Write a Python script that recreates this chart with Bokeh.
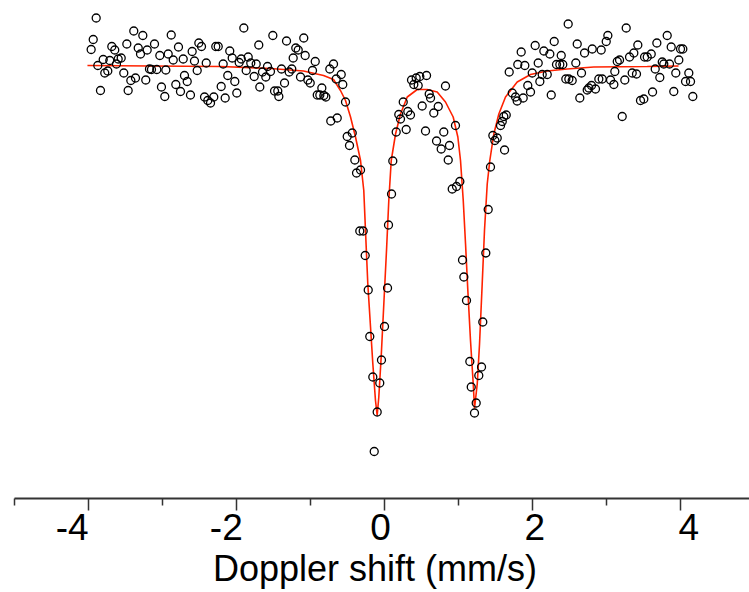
from bokeh.plotting import figure
from bokeh.models import Range1d, LinearAxis, FixedTicker
from bokeh.embed import file_html
from bokeh.resources import INLINE

# ---- data ----
velocity = [
    -3.964, -3.936, -3.896, -3.874, -3.838, -3.801, -3.780, -3.739, -3.712, -3.685,
    -3.645, -3.622, -3.599, -3.558, -3.523, -3.482, -3.464, -3.428, -3.388, -3.365,
    -3.328, -3.297, -3.266, -3.226, -3.207, -3.176, -3.149, -3.108, -3.077, -3.036,
    -3.014, -2.969, -2.955, -2.923, -2.882, -2.855, -2.820, -2.784, -2.757, -2.720,
    -2.703, -2.666, -2.622, -2.599, -2.568, -2.531, -2.509, -2.473, -2.432, -2.409,
    -2.388, -2.351, -2.307, -2.280, -2.247, -2.207, -2.180, -2.153, -2.118, -2.091,
    -2.058, -2.023, -1.996, -1.964, -1.936, -1.901, -1.869, -1.842, -1.807, -1.761,
    -1.734, -1.699, -1.685, -1.649, -1.604, -1.581, -1.541, -1.509, -1.486, -1.442,
    -1.428, -1.392, -1.351, -1.324, -1.288, -1.253, -1.234, -1.199, -1.166, -1.135,
    -1.091, -1.072, -1.036, -1.004, -0.973, -0.936, -0.909, -0.874, -0.847, -0.820,
    -0.793, -0.739, -0.726, -0.689, -0.653, -0.639, -0.585, -0.564, -0.527, -0.504,
    -0.473, -0.436,
    -0.401, -0.378, -0.334, -0.324, -0.288, -0.261, -0.220, -0.199, -0.158, -0.139,
    -0.099, -0.064, -0.041, 0.000, 0.041, 0.054, 0.095, 0.112, 0.158, 0.193,
    0.216, 0.253, 0.293, 0.315, 0.351, 0.365, 0.396, 0.428, 0.455, 0.477,
    0.509, 0.554, 0.568, 0.604, 0.622, 0.666, 0.703, 0.726, 0.766, 0.801,
    0.824, 0.861, 0.878, 0.915, 0.959, 0.973, 1.018, 1.054, 1.072, 1.108,
    1.153, 1.172, 1.216, 1.239, 1.274, 1.311, 1.328, 1.369, 1.401, 1.432,
    1.464, 1.491, 1.523, 1.568, 1.591, 1.612, 1.622, 1.645, 1.685, 1.726,
    1.770, 1.793, 1.801, 1.847, 1.874, 1.896,
    1.936, 1.973, 1.996, 2.036, 2.077, 2.099, 2.131, 2.153, 2.199, 2.234,
    2.253, 2.293, 2.324, 2.369, 2.388, 2.409, 2.450, 2.482, 2.491, 2.536,
    2.585, 2.604, 2.639, 2.662, 2.703, 2.739, 2.761, 2.797, 2.807, 2.851,
    2.896, 2.928, 2.942, 2.996, 3.018, 3.054, 3.099, 3.112, 3.145, 3.176,
    3.212, 3.247, 3.266, 3.311, 3.347, 3.369, 3.405, 3.423, 3.459, 3.504,
    3.514, 3.550, 3.604, 3.622, 3.658, 3.680, 3.720, 3.753, 3.774, 3.820,
    3.851, 3.874, 3.909, 3.936, 3.977, 4.000, 4.031, 4.068, 4.112, 4.135,
    4.166,
]

transmission = [
    100.32, 100.52, 100.95, 100.00, 99.50, 100.12, 99.85, 99.89, 100.10, 100.38,
    100.31, 100.03, 100.13, 100.15, 99.85, 100.43, 99.50, 99.70, 100.69, 99.75,
    100.35, 100.23, 100.60, 99.71, 100.31, 99.93, 99.92, 100.43, 99.92, 100.20,
    99.57, 99.38, 99.91, 100.23, 100.61, 100.11, 99.62, 100.37, 99.48, 100.13,
    99.80, 99.68, 99.41, 100.28, 100.09, 99.90, 100.45, 100.38, 99.37, 100.05,
    99.30, 99.25, 99.37, 100.38, 100.38, 99.58, 100.03, 99.35, 99.80, 100.29,
    100.15, 99.68, 99.45, 100.06, 100.13, 100.75, 99.90, 100.17, 100.05, 99.78,
    100.03, 100.41, 99.57, 99.87, 99.77, 99.98, 99.88, 100.60, 99.49, 99.49,
    99.38, 99.93, 99.65, 100.49, 99.87, 99.93, 100.15, 100.35, 100.31, 99.77,
    100.55, 100.20, 99.71, 99.65, 99.90, 100.08, 99.41, 99.41, 99.55, 99.40,
    99.37, 99.93, 98.89, 100.03, 99.73, 98.95, 99.82, 99.62, 99.27, 98.58,
    98.40, 98.65,
    98.11, 97.85, 96.69, 97.91, 96.69, 96.20, 95.51, 94.58, 93.77, 92.28,
    93.07, 93.65, 94.11, 94.78, 95.55, 96.81, 97.43, 98.09, 98.67, 99.02,
    98.93, 99.27, 98.72, 99.08, 99.01, 99.71, 99.62, 99.75, 99.60, 99.78,
    99.19, 98.69, 99.80, 99.43, 99.35, 99.05, 98.49, 99.18, 98.33, 98.67,
    99.59, 98.11, 98.40, 97.53, 98.80, 97.58, 97.68, 96.11, 95.77, 95.30,
    94.08, 93.57, 93.05, 93.25, 93.80, 93.97, 94.87, 96.25, 97.12, 97.97,
    98.60, 98.50, 98.55, 98.80, 98.88, 98.98, 98.31, 99.01, 99.87, 99.45,
    99.37, 99.29, 100.02, 100.27, 99.35, 100.00,
    99.60, 99.47, 99.85, 100.40, 100.05, 99.68, 99.82, 100.29, 99.82, 100.23,
    99.41, 100.48, 100.02, 100.02, 100.20, 100.02, 99.73, 100.83, 99.73, 99.70,
    100.05, 100.43, 99.35, 99.85, 100.25, 99.51, 99.55, 99.60, 100.33, 99.53,
    99.73, 100.31, 99.73, 100.48, 100.60, 99.71, 99.62, 99.88, 100.08, 100.11,
    98.98, 99.71, 100.75, 100.17, 99.85, 100.25, 99.83, 100.41, 99.30, 99.33,
    100.17, 100.17, 100.23, 99.47, 99.93, 100.45, 99.76, 100.07, 100.03, 100.60,
    100.03, 100.37, 99.48, 99.85, 100.11, 100.33, 100.33, 99.68, 99.85, 99.68,
    99.38,
]

fit_velocity = [
    -4.014, -3.162, -2.216, -1.541, -1.095, -0.824, -0.689, -0.595, -0.527, -0.459,
    -0.392, -0.324, -0.280, -0.257, -0.226, -0.189, -0.158, -0.122, -0.099, -0.077,
    -0.045, -0.009, 0.027, 0.058, 0.091, 0.149, 0.216, 0.307, 0.442, 0.577,
    0.712, 0.824, 0.928, 0.991, 1.027, 1.064, 1.095, 1.126, 1.162, 1.199,
    1.216, 1.253, 1.284, 1.320, 1.351, 1.388, 1.423, 1.477, 1.545, 1.635,
    1.793, 1.973, 2.199, 2.469, 2.828, 3.550, 3.973,
]
fit_transmission = [
    100.00, 99.99, 99.98, 99.94, 99.89, 99.80, 99.72, 99.50, 99.30, 98.97,
    98.57, 98.10, 97.50, 96.70, 95.64, 94.77, 94.04, 93.30, 93.00, 93.37,
    94.17, 95.24, 96.30, 97.30, 98.10, 98.63, 99.03, 99.37, 99.52, 99.52,
    99.47, 99.27, 98.97, 98.57, 98.10, 97.30, 96.43, 95.50, 94.50, 93.63,
    93.14, 93.63, 94.43, 95.63, 96.70, 97.63, 98.10, 98.63, 99.03, 99.37,
    99.67, 99.82, 99.89, 99.93, 99.97, 99.98, 99.99,
]

tick_values = [-4, -2, 0, 2, 4]
tick_labels = ["-4", "-2", "0", "2", "4"]
minor_tick_values = [-5, -3, -1, 1, 3, 5]
x_title = "Doppler shift (mm/s)"

FONT = "Liberation Sans"

p = figure(
    frame_width=749, frame_height=498,
    x_range=Range1d(-5.189, 4.932), y_range=Range1d(91.34, 101.3),
    x_axis_location=None, y_axis_location=None,
    output_backend="svg", toolbar_location=None,
    min_border_left=0, min_border_right=0, min_border_top=0, min_border_bottom=0,
    outline_line_color=None, background_fill_color="white", border_fill_color="white",
)
p.xgrid.visible = False
p.ygrid.visible = False

p.extra_x_ranges = {"labels": Range1d(-4.9287, 4.786)}

# axis line + ticks
ax = LinearAxis(
    ticker=FixedTicker(ticks=tick_values, minor_ticks=minor_tick_values),
    bounds=(-5, 5),
    axis_line_color="#333333", axis_line_width=2,
    major_tick_line_color="#333333", major_tick_line_width=1.5,
    minor_tick_line_color="#333333", minor_tick_line_width=1.5,
    major_tick_in=0, major_tick_out=12, minor_tick_in=0, minor_tick_out=7,
    major_label_text_color=None, major_label_text_font_size="1px",
    major_label_standoff=0,
)
p.add_layout(ax, "below")

# tick labels + title
lab = LinearAxis(
    x_range_name="labels",
    ticker=FixedTicker(ticks=tick_values, minor_ticks=[]),
    major_label_overrides=dict(zip(tick_values, tick_labels)),
    bounds=(-4.9, 4.95),
    axis_line_color=None, major_tick_line_color=None, minor_tick_line_color=None,
    major_tick_in=0, major_tick_out=0, minor_tick_in=0, minor_tick_out=0,
    major_label_standoff=3,
    major_label_text_font=FONT, major_label_text_font_size="37px",
    major_label_text_color="black",
    axis_label=x_title, axis_label_text_font=FONT, axis_label_text_font_size="36px",
    axis_label_text_font_style="normal", axis_label_text_color="black",
    axis_label_standoff=5,
)
p.add_layout(lab, "below")

p.line(fit_velocity, fit_transmission, line_color="#ff2200", line_width=1.6)
p.scatter(velocity, transmission, marker="circle", size=8, fill_color=None,
          line_color="black", line_width=1.3)

open("out.html", "w").write(file_html(p, INLINE))
